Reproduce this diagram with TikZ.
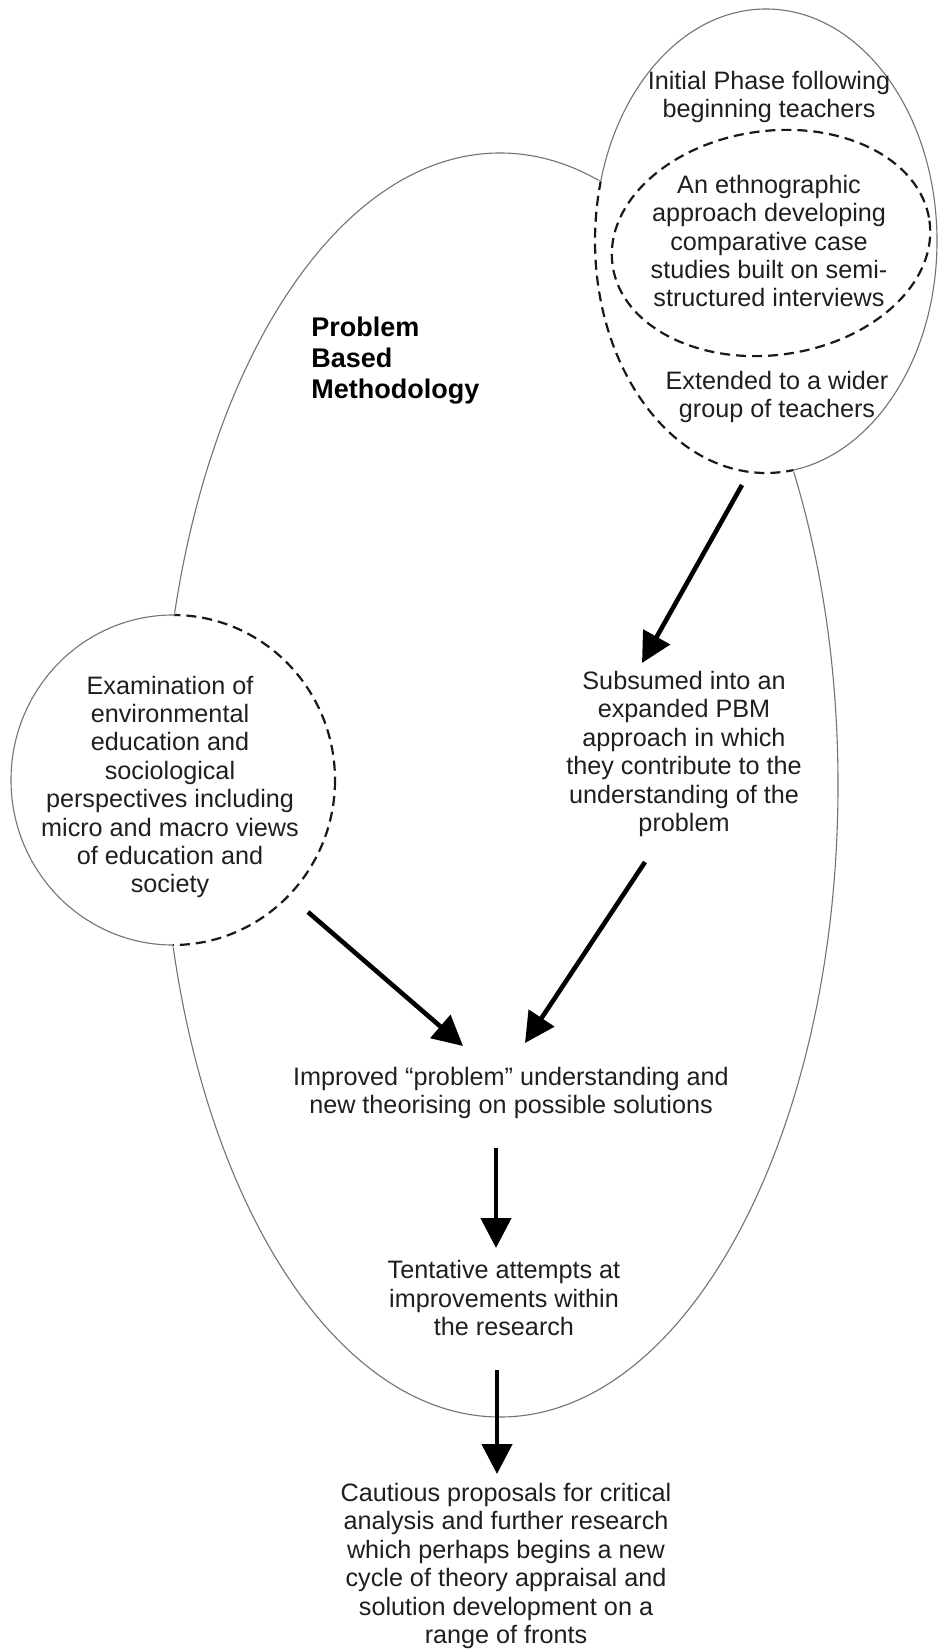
\documentclass[tikz,border=0pt]{standalone}
\usepackage{fontspec}
\setmainfont{Liberation Sans}
\usetikzlibrary{arrows.meta}
\begin{document}
\begin{tikzpicture}[x=0.5pt,y=-0.5pt,
  outline/.style={draw=black!55, line width=0.55pt},
  hidden/.style={draw=black!90, line width=1.1pt, dash pattern=on 5pt off 3pt},
  eraser/.style={draw=white, line width=2.4pt},
  txt/.style={align=center, text=black!88, inner sep=0pt,
    font=\fontsize{12.6}{14.2}\selectfont},
  title/.style={align=left, text=black, inner sep=0pt,
    font=\bfseries\fontsize{13.5}{15.3}\selectfont},
  arr/.style={draw=black, line width=2.3pt, -{Triangle[width=15pt,length=15pt]}},
]
\fill[white] (0,0) rectangle (942,1652);
\useasboundingbox (0,0) rectangle (942,1652);

% large egg-shaped boundary of the problem based methodology
\draw[outline] (500,785) ellipse [x radius=338, y radius=632];

% blank the parts of it covered by the two side circles
\fill[white] (766,241) ellipse [x radius=171, y radius=232];
\fill[white] (173,780) ellipse [x radius=162, y radius=165];

% side circles: solid outside, dashed where they overlap the large boundary
\draw[outline] (766,241) ellipse [x radius=171, y radius=232];
\draw[outline] (173,780) ellipse [x radius=162, y radius=165];
\begin{scope}
  \clip (500,785) ellipse [x radius=338, y radius=632];
  \draw[eraser] (766,241) ellipse [x radius=171, y radius=232];
  \draw[eraser] (173,780) ellipse [x radius=162, y radius=165];
  \draw[hidden] (766,241) ellipse [x radius=171, y radius=232];
  \draw[hidden] (173,780) ellipse [x radius=162, y radius=165];
\end{scope}

% inner ethnographic ellipse
\draw[hidden, rotate around={8:(771,243)}] (771,243) ellipse [x radius=160, y radius=112];

% texts
\node[txt] (init) at (769,97) {Initial Phase following\\beginning teachers};
\node[txt] (ethno) at (769,241) {An ethnographic\\approach developing\\comparative case\\studies built on semi-\\structured interviews};
\node[txt] (ext) at (777,397) {Extended to a wider\\group of teachers};
\node[title, anchor=north west] (pbm) at (311,317) {Problem\\Based\\Methodology};
\node[txt] (exam) at (170,787) {Examination of\\environmental\\education and\\sociological\\perspectives including\\micro and macro views\\of education and\\society};
\node[txt] (sub) at (684,754) {Subsumed into an\\expanded PBM\\approach in which\\they contribute to the\\understanding of the\\problem};
\node[txt] (impr) at (511,1093) {Improved “problem” understanding and\\new theorising on possible solutions};
\node[txt] (tent) at (504,1298) {Tentative attempts at\\improvements within\\the research};
\node[txt] (caut) at (506,1566) {Cautious proposals for critical\\analysis and further research\\which perhaps begins a new\\cycle of theory appraisal and\\solution development on a\\range of fronts};

% arrow ends
\coordinate (a1s) at (742,485);  \coordinate (a1e) at (642,663);
\coordinate (a2s) at (308,912);  \coordinate (a2e) at (463,1046);
\coordinate (a3s) at (645,862);  \coordinate (a3e) at (525,1043);
\coordinate (a4s) at (496,1148); \coordinate (a4e) at (496,1248);
\coordinate (a5s) at (497,1370); \coordinate (a5e) at (497,1474);

\draw[arr] (a1s) -- (a1e);
\draw[arr] (a2s) -- (a2e);
\draw[arr] (a3s) -- (a3e);
\draw[arr] (a4s) -- (a4e);
\draw[arr] (a5s) -- (a5e);
\end{tikzpicture}
\end{document}
